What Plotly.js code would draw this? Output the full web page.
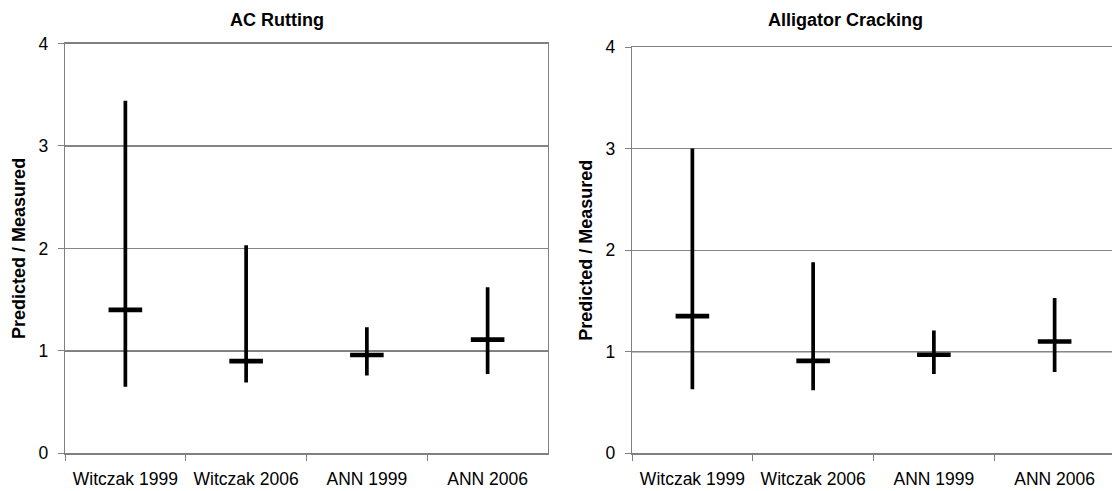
<!DOCTYPE html>
<html>
<head>
<meta charset="utf-8">
<script src="https://cdn.plot.ly/plotly-3.0.1.min.js"></script>
<style>html,body{margin:0;padding:0;background:#fff;}#chart{width:1112px;height:491px;}</style>
</head>
<body>
<div id="chart"></div>
<script>
// ---- data ----
var categories = ["Witczak 1999", "Witczak 2006", "ANN 1999", "ANN 2006"];
var rutHigh   = [3.44, 2.03, 1.23, 1.62];
var rutLow    = [0.65, 0.69, 0.76, 0.775];
var rutMid    = [1.40, 0.90, 0.96, 1.11];
var crackHigh = [3.00, 1.88, 1.21, 1.53];
var crackLow  = [0.63, 0.62, 0.78, 0.80];
var crackMid  = [1.35, 0.91, 0.97, 1.10];
var yTicks = [0, 1, 2, 3, 4];
var titles = ["AC Rutting", "Alligator Cracking"];
var yTitle = "Predicted / Measured";

function hiLoTrace(mid, hi, lo, xa, ya) {
  return {
    type: "scatter", mode: "markers", x: categories, y: mid,
    xaxis: xa, yaxis: ya, showlegend: false, hoverinfo: "skip",
    marker: {symbol: "line-ew", size: 24, color: "#000", line: {color: "#000", width: 4.6}},
    error_y: {type: "data", symmetric: false,
      array: hi.map(function (v, i) { return v - mid[i]; }),
      arrayminus: lo.map(function (v, i) { return mid[i] - v; }),
      width: 0, thickness: 3.7, color: "#000"}
  };
}

var W = 1112, H = 491;
var axisGray = "#808080";
var font = "Liberation Sans, Arial, sans-serif";
var tickSize = 17.5;

function xAx(domain, range, mirror) {
  return {domain: domain, type: "category", categoryarray: categories, range: range,
    showline: true, linecolor: axisGray, linewidth: 1.3, mirror: mirror,
    ticks: "outside", tickson: "boundaries", ticklen: 6, tickcolor: axisGray, tickwidth: 1,
    ticklabelstandoff: 9,
    showgrid: false, zeroline: false, fixedrange: true,
    tickfont: {family: font, size: tickSize, color: "#000"}};
}
function yAx(domain, anchor, mirror) {
  return {domain: domain, anchor: anchor, range: [0, 4], tickvals: yTicks,
    showline: true, linecolor: axisGray, linewidth: 1.3, mirror: mirror,
    ticks: "outside", ticklen: 6, tickcolor: axisGray, tickwidth: 1,
    ticklabelstandoff: 6,
    showgrid: true, gridcolor: "#858585", gridwidth: 1.2, zeroline: false,
    tickfont: {family: font, size: tickSize, color: "#000"},
    title: {text: yTitle, font: {family: font, size: 18, color: "#000", weight: "bold"}, standoff: 8}};
}

var lx = [65 / W, 548 / W];
var ly = [(H - 453.3) / H, (H - 43.5) / H];
var rx = [632 / W, 1];
var ry = [(H - 453.3) / H, (H - 47) / H];
var rMax = -0.5 + (1112 - 632) / ((548 - 65) / 4);

var data = [
  hiLoTrace(rutMid, rutHigh, rutLow, "x", "y"),
  hiLoTrace(crackMid, crackHigh, crackLow, "x2", "y2")
];

var layout = {
  width: W, height: H, margin: {l: 0, r: 0, t: 0, b: 0},
  paper_bgcolor: "#fff", plot_bgcolor: "#fff", showlegend: false,
  font: {family: font, color: "#000"},
  xaxis: Object.assign(xAx(lx, [-0.5, 3.5], true), {anchor: "y"}),
  yaxis: yAx(ly, "x", true),
  xaxis2: Object.assign(xAx(rx, [-0.5, rMax], true), {anchor: "y2"}),
  yaxis2: yAx(ry, "x2", false),
  shapes: [
    {type: "line", xref: "x domain", yref: "y", x0: 0, x1: 1, y0: 1, y1: 1, line: {color: "#000", width: 1.2}, layer: "below"},
    {type: "line", xref: "x2 domain", yref: "y2", x0: 0, x1: 1, y0: 1, y1: 1, line: {color: "#000", width: 1.2}, layer: "below"}
  ],
  annotations: [
    {text: "<b>" + titles[0] + "</b>", xref: "paper", yref: "paper", x: 276.5 / W, y: (H - 20) / H,
     xanchor: "center", yanchor: "middle", showarrow: false, font: {family: font, size: 18, color: "#000"}},
    {text: "<b>" + titles[1] + "</b>", xref: "paper", yref: "paper", x: 845 / W, y: (H - 20) / H,
     xanchor: "center", yanchor: "middle", showarrow: false, font: {family: font, size: 18, color: "#000"}}
  ]
};

Plotly.newPlot("chart", data, layout, {displayModeBar: false, staticPlot: true});
</script>
</body>
</html>
